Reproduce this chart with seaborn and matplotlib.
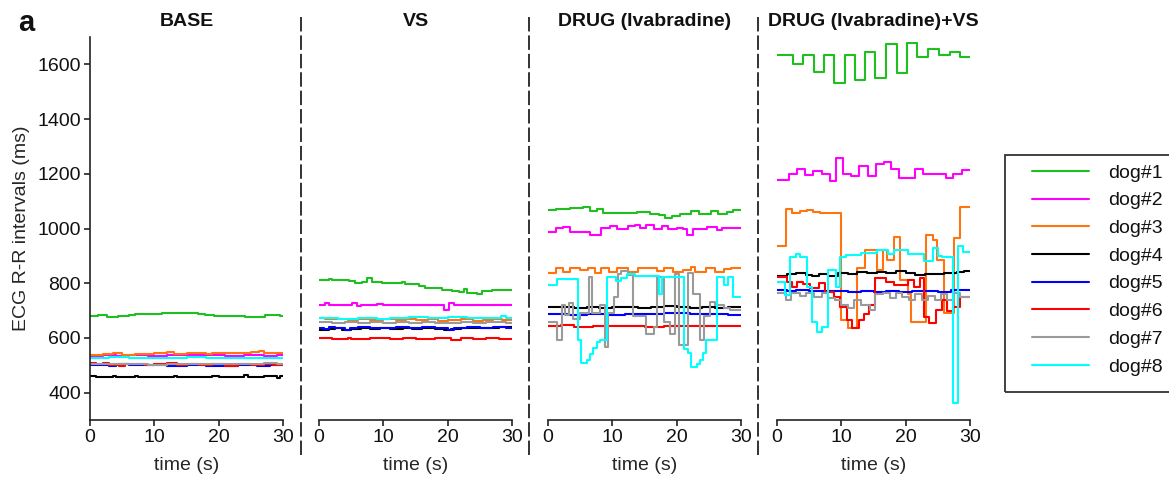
import matplotlib
matplotlib.use("Agg")
import pandas as pd
import seaborn as sns
import matplotlib.pyplot as plt
from matplotlib.lines import Line2D
from matplotlib.patches import Rectangle

# ---------------- data: (time s, R-R interval ms) step change points ----------------
conditions = ["BASE", "VS", "DRUG (Ivabradine)", "DRUG (Ivabradine)+VS"]
dogs = ["dog#1", "dog#2", "dog#3", "dog#4", "dog#5", "dog#6", "dog#7", "dog#8"]
colors = ["#1fbf1f", "#ff00ff", "#ff7410", "#000000", "#0000ff", "#ff0000", "#9a9a9a", "#00ffff"]
xticks = [0, 10, 20, 30]
yticks = [400, 600, 800, 1000, 1200, 1400, 1600]

base_dog1 = [(0, 679), (1.3, 683), (2.6, 677), (4.4, 681), (6.0, 684), (7.0, 686), (9.5, 688), (11.2, 692),
             (12.7, 690), (16.8, 688), (17.8, 683), (19.2, 681), (21.0, 679), (24.1, 678), (27.2, 682),
             (28.8, 684), (29.5, 681)]
base_dog2 = [(0, 533), (2, 536), (4, 534), (6, 537), (9, 535), (12, 538), (15, 536), (18, 538), (21, 535),
             (24, 537), (27, 534), (29, 536)]
base_dog3 = [(0, 538), (2, 541), (3.5, 545), (5, 539), (7, 542), (10, 544), (12, 547), (13, 542), (15, 545),
             (18, 541), (19, 546), (22, 544), (25, 548), (26.3, 553), (27, 546), (28.5, 545)]
base_dog4 = [(0, 462), (1, 458), (3, 456), (3.5, 461), (4, 457), (7, 460), (7.5, 456), (10, 458), (13, 460),
             (13.5, 456), (16, 459), (19, 462), (20, 458), (24, 463), (24.5, 458), (27, 460), (29, 455),
             (29.6, 461)]
base_dog5 = [(0, 502), (3, 499), (4, 503), (6, 500), (9, 502), (12, 498), (15, 501), (18, 499), (20, 497),
             (23, 500), (26, 498), (28, 501)]
base_dog6 = [(0, 508), (1, 504), (2, 509), (3, 502), (4.5, 497), (5.5, 503), (7, 506), (8.5, 500), (10, 504),
             (12, 507), (13.5, 502), (15, 505), (17, 500), (19, 504), (21, 499), (23, 503), (25, 500),
             (27, 505), (28.5, 501)]
base_dog7 = [(0, 506), (3, 503), (6, 505), (9, 502), (12, 506), (15, 504), (18, 503), (21, 506), (24, 505),
             (27, 508), (29, 504)]
base_dog8 = [(0, 527), (3, 529), (6, 526), (9, 528), (12, 527), (15, 529), (18, 527), (21, 528), (24, 526),
             (27, 528)]

vs_dog1 = [(0, 811), (1.5, 817), (2.0, 811), (2.5, 813), (4.6, 808), (5.6, 802), (6.7, 806), (7.5, 819),
           (8.2, 806), (9.8, 802), (11.3, 799), (12.9, 804), (13.4, 797), (15.5, 789), (16.5, 783),
           (17.3, 781), (19.1, 777), (20.7, 772), (21.7, 768), (22.5, 780), (23.0, 766), (24.6, 762),
           (25.3, 773), (26.9, 777)]
vs_dog2 = [(0, 720), (0.9, 729), (1.6, 720), (5.1, 727), (5.9, 716), (6.6, 720), (9.0, 723), (10, 720),
           (12, 722), (14, 719), (16, 721), (19.4, 701), (20.2, 727), (21, 719), (23, 722), (26, 720), (28, 722)]
vs_dog3 = [(0, 673), (1, 668), (3, 671), (4.5, 665), (6, 669), (8, 664), (10, 668), (12, 665), (13.5, 670),
           (15, 664), (17, 668), (18.5, 662), (20, 666), (22, 668), (24, 663), (25.5, 667), (27, 671),
           (28.5, 666)]
vs_dog4 = [(0, 628), (1.5, 632), (2.5, 636), (3.5, 630), (5, 634), (6.5, 637), (8, 632), (9.5, 636), (11, 633),
           (13, 637), (14.5, 634), (16, 637), (18, 634), (19.5, 628), (20.5, 632), (22, 637), (25, 638),
           (28, 639)]
vs_dog5 = [(0, 637), (0.8, 632), (1.5, 641), (2.5, 638), (4.0, 628), (4.8, 636), (6, 639), (8, 635), (10, 638),
           (12, 640), (14, 636), (16, 639), (18, 635), (20, 630), (21, 637), (23, 641), (25, 638), (27, 640),
           (29, 638)]
vs_dog6 = [(0, 598), (2, 596), (4.5, 600), (5, 597), (8, 599), (11, 596), (13, 600), (15, 597), (18, 598),
           (20.5, 594), (22, 598), (24, 596), (26, 599), (28, 597)]
vs_dog7 = [(0, 660), (2, 655), (4, 659), (6, 654), (8, 658), (10, 654), (12, 657), (14, 655), (16, 659),
           (18, 656), (20, 653), (22, 658), (24, 654), (26, 657), (28, 660), (29, 655)]
vs_dog8 = [(0, 673), (3, 670), (6, 674), (9, 669), (11, 673), (14, 675), (17, 674), (20, 676), (23, 673),
           (26, 674), (28.3, 681), (29, 674)]

drug_dog1 = [(0, 1067), (1.3, 1070), (2.3, 1071), (3.4, 1075), (5.5, 1078), (6.5, 1064), (7.6, 1070),
             (8.6, 1058), (9.6, 1057), (13.8, 1060), (15.9, 1054), (17.2, 1049), (18.2, 1040), (19.2, 1047),
             (20.5, 1053), (22.3, 1064), (23.4, 1054), (25.4, 1064), (26.5, 1054), (27.8, 1060), (28.8, 1067)]
drug_dog2 = [(0, 987), (1.3, 1003), (2.4, 1005), (3.4, 987), (6.5, 978), (8.3, 1003), (9.6, 1009), (10.7, 999),
             (12.5, 1009), (13.5, 1011), (14.3, 1001), (15.3, 1013), (16.4, 999), (17.7, 1009), (18.7, 999),
             (20.0, 1003), (21.0, 999), (21.6, 978), (22.6, 999), (24.7, 1005), (26.2, 993), (27.0, 1003)]
drug_dog3 = [(0, 836), (1.3, 857), (2.4, 842), (3.4, 856), (5.0, 848), (6.2, 856), (7.3, 838), (8.2, 855),
             (9.5, 842), (10.7, 855), (12.5, 840), (14, 855), (17, 845), (18, 855), (19.5, 842), (21, 850),
             (22.2, 860), (22.8, 840), (24.5, 855), (26, 840), (27.3, 852), (28.5, 855)]
drug_dog4 = [(0, 712), (2, 714), (4, 711), (6, 713), (8, 710), (10, 712), (12, 714), (14, 711), (16, 713),
             (18, 715), (20, 712), (22, 710), (24, 713), (26, 711), (28, 712)]
drug_dog5 = [(0, 686), (3, 684), (6, 686), (9, 684), (12, 687), (15, 688), (18, 691), (20, 692), (22, 689),
             (25, 686), (28, 685)]
drug_dog6 = [(0, 643), (2, 646), (4, 641), (7, 645), (10, 642), (12, 644), (15, 641), (18, 645), (21, 642),
             (24, 644), (27, 642)]
drug_dog7 = [(0, 660), (1.4, 592), (2.1, 720), (2.6, 683), (3.2, 726), (3.9, 671), (5.0, 690), (6.3, 823),
             (6.8, 690), (8.1, 720), (8.8, 567), (9.4, 690), (10.2, 750), (10.9, 835), (11.4, 845),
             (12.4, 830), (13.2, 681), (15.3, 616), (16.4, 640), (17.0, 823), (18.1, 659), (18.9, 616),
             (19.7, 835), (20.4, 574), (21.8, 838), (22.6, 762), (23.6, 592), (24.3, 681), (25.2, 732),
             (26.0, 720), (27.3, 708), (28.3, 701)]
drug_dog8 = [(0, 795), (1.4, 816), (4.6, 592), (5.2, 508), (6.0, 520), (6.5, 540), (7.0, 565), (7.6, 585),
             (8.1, 592), (9.1, 823), (10.6, 808), (11.4, 818), (12.3, 832), (13.5, 828), (17.2, 760),
             (17.7, 823), (21.1, 560), (21.8, 545), (22.3, 494), (23.1, 505), (23.6, 520), (24.1, 545),
             (24.6, 592), (26.2, 823), (27.4, 793), (28.0, 823), (28.8, 750)]

dvs_dog1 = [(0, 1636), (2.45, 1600), (4.1, 1633), (5.7, 1572), (7.3, 1636), (8.9, 1533), (10.5, 1635),
            (12.1, 1541), (13.7, 1645), (15.3, 1551), (16.9, 1676), (18.6, 1568), (20.2, 1678), (21.8, 1627),
            (23.5, 1655), (25.2, 1636), (26.9, 1645), (28.4, 1627)]
dvs_dog2 = [(0, 1179), (1.8, 1198), (3.1, 1219), (4.4, 1194), (5.6, 1210), (7.0, 1198), (8.2, 1174),
            (9.1, 1259), (10.3, 1200), (11.5, 1191), (12.8, 1227), (14.2, 1191), (15.4, 1235), (16.6, 1243),
            (17.7, 1219), (18.9, 1186), (20.1, 1183), (21.4, 1216), (22.7, 1198), (26.2, 1186), (27.4, 1198),
            (28.7, 1213)]
dvs_dog3 = [(0, 935), (1.4, 1073), (2.4, 1055), (3.5, 1063), (4.6, 1068), (5.6, 1060), (6.7, 1055),
            (7.8, 1058), (9.9, 665), (11.1, 635), (12.4, 854), (13.75, 921), (15.6, 847), (16.4, 921),
            (17.1, 884), (18.2, 970), (19.1, 811), (20.3, 760), (20.8, 659), (23.1, 975), (24.2, 957),
            (24.9, 884), (26.0, 690), (27.5, 964), (28.5, 1077)]
dvs_dog4 = [(0, 826), (1.5, 832), (3, 836), (4.5, 830), (5.5, 826), (6.5, 833), (8, 828), (9.5, 838),
            (11, 835), (12.5, 842), (14, 836), (15.5, 840), (17, 837), (18.5, 845), (20, 838), (21.5, 830),
            (23, 835), (24.5, 832), (26, 838), (28, 840), (29, 844)]
dvs_dog5 = [(0, 774), (1.5, 772), (3, 775), (5, 771), (7, 770), (9, 773), (11, 768), (13, 771), (15, 767),
            (17, 770), (19, 767), (21, 772), (23, 770), (25, 768), (27, 774), (28.5, 776)]
dvs_dog6 = [(0, 823), (1.5, 805), (2.3, 786), (3.1, 805), (4.1, 796), (5.2, 782), (6.5, 800), (7.5, 768),
            (8.8, 750), (9.8, 713), (10.9, 665), (11.7, 635), (12.7, 665), (13.5, 689), (14.3, 720),
            (15.3, 820), (16.9, 805), (18.2, 793), (20.3, 810), (21.3, 785), (22.3, 820), (22.9, 677),
            (23.6, 653), (24.7, 701), (25.7, 740), (26.5, 697), (27.3, 713), (28.5, 748)]
dvs_dog7 = [(0, 766), (1.4, 738), (2.2, 763), (3.5, 755), (4.5, 763), (5.8, 750), (7.0, 765), (8.0, 745),
            (9.0, 738), (10.0, 720), (11.0, 708), (12.0, 738), (13.0, 720), (14.5, 701), (15.3, 760),
            (16.5, 763), (17.5, 745), (18.5, 763), (19.5, 750), (20.5, 738), (21.5, 760), (22.5, 740),
            (23.5, 755), (24.5, 738), (25.5, 760), (26.5, 740), (27.5, 763), (28.5, 748)]
dvs_dog8 = [(0, 804), (1.2, 756), (2.0, 897), (2.9, 906), (3.6, 894), (4.7, 786), (5.5, 658), (6.2, 621),
            (7.0, 640), (8.0, 850), (9.1, 786), (9.8, 897), (10.7, 902), (13.0, 909), (15.6, 920),
            (17.2, 905), (18.2, 920), (20.3, 908), (22.9, 880), (24.2, 927), (25.0, 900), (25.7, 895),
            (27.4, 361), (28.1, 935), (28.9, 915)]

panels = [
    [base_dog1, base_dog2, base_dog3, base_dog4, base_dog5, base_dog6, base_dog7, base_dog8],
    [vs_dog1, vs_dog2, vs_dog3, vs_dog4, vs_dog5, vs_dog6, vs_dog7, vs_dog8],
    [drug_dog1, drug_dog2, drug_dog3, drug_dog4, drug_dog5, drug_dog6, drug_dog7, drug_dog8],
    [dvs_dog1, dvs_dog2, dvs_dog3, dvs_dog4, dvs_dog5, dvs_dog6, dvs_dog7, dvs_dog8],
]


def panel_frame(series):
    rows = []
    for dog, pts in zip(dogs, series):
        for t, v in pts:
            rows.append((dog, t, v))
        rows.append((dog, 30.0, pts[-1][1]))
    return pd.DataFrame(rows, columns=["dog", "time", "rr"])


# ---------------- figure ----------------
sns.set_theme(style="ticks")
plt.rcParams["font.family"] = ["Liberation Sans", "DejaVu Sans"]
plt.rcParams["axes.edgecolor"] = "#222222"
plt.rcParams["text.color"] = "#111111"
plt.rcParams["xtick.color"] = "#222222"
plt.rcParams["ytick.color"] = "#222222"
plt.rcParams["xtick.labelcolor"] = "#111111"
plt.rcParams["ytick.labelcolor"] = "#111111"

FS = 14
W, H = 1169, 484
fig = plt.figure(figsize=(W / 100, H / 100), dpi=100)
lefts = [90, 319, 548, 777]
palette = dict(zip(dogs, colors))

axes = []
for i, cond in enumerate(conditions):
    ax = fig.add_axes([lefts[i] / W, (H - 420) / H, 193 / W, 383 / H])
    df = panel_frame(panels[i])
    sns.lineplot(data=df, x="time", y="rr", hue="dog", hue_order=dogs, palette=palette,
                 estimator=None, sort=False, drawstyle="steps-post", linewidth=1.5,
                 legend=False, ax=ax)
    ax.set_xlim(0, 30)
    ax.set_ylim(300, 1700)
    ax.set_xticks(xticks)
    ax.tick_params(axis="both", labelsize=FS, length=4, width=1.2, pad=2.5)
    ax.set_xlabel("time (s)", fontsize=FS, labelpad=8)
    ax.set_title(cond, fontsize=FS, fontweight="bold", pad=8)
    for s in ax.spines.values():
        s.set_linewidth(1.2)
    if i == 0:
        ax.set_yticks(yticks)
        ax.set_ylabel("ECG R-R intervals (ms)", fontsize=FS, labelpad=5)
        sns.despine(ax=ax)
    else:
        ax.set_yticks([])
        ax.set_ylabel("")
        sns.despine(ax=ax, left=True)
    axes.append(ax)

# dashed separators between conditions
for xs in [301, 529, 758]:
    fig.add_artist(Line2D([xs / W, xs / W], [1 - 17 / H, 1 - 455 / H], color="#222222",
                          lw=1.3, dashes=(8, 2.2), transform=fig.transFigure))

# panel letter
fig.text(18 / W, 1 - 23 / H, "a", fontsize=21, fontweight="bold", va="center", ha="left")

# legend
handles = [Line2D([0], [0], color=c, lw=1.5) for c in colors]
fig.legend(handles, dogs, loc="upper left", bbox_to_anchor=(1032 / W, 1 - 164 / H),
           frameon=False, borderpad=0, borderaxespad=0, handlelength=2.93, handletextpad=0.98,
           labelspacing=0.52, fontsize=FS)
fig.add_artist(Rectangle((1005 / W, (H - 392) / H), 300 / W, 237 / H, fill=False,
                         edgecolor="#333333", lw=1.3, transform=fig.transFigure, clip_on=False))

fig.savefig("out.png", dpi=100)
